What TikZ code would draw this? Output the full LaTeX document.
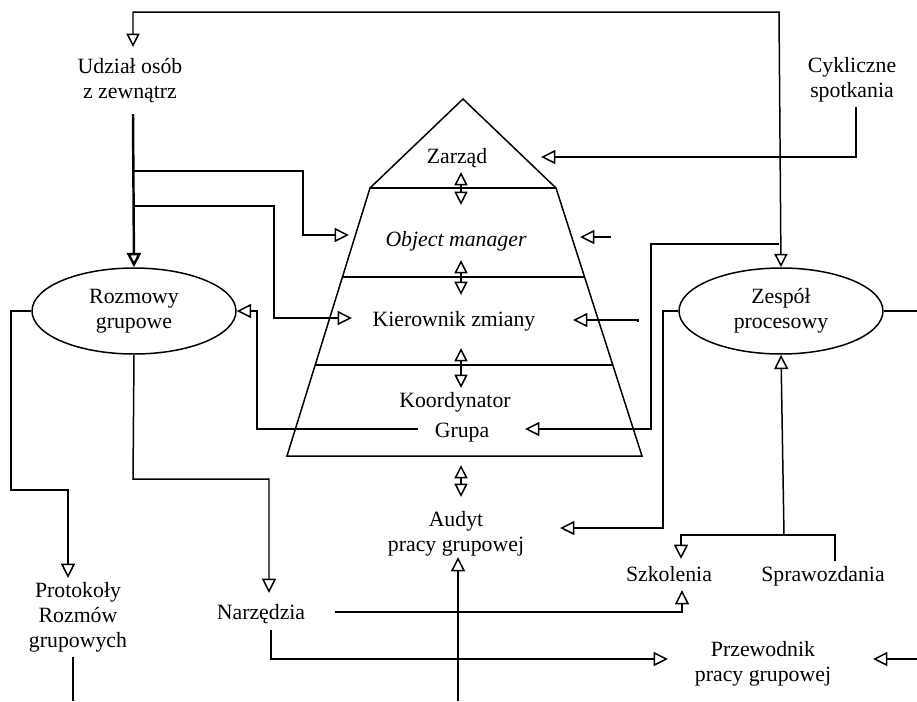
\documentclass[tikz,border=0pt]{standalone}
\usepackage{fontspec}
\setmainfont{Liberation Serif}
\usetikzlibrary{arrows.meta,shapes.geometric}
\begin{document}
\begin{tikzpicture}[x=0.02cm,y=-0.02cm,
  font=\fontsize{12.4pt}{14.2pt}\selectfont,
  line width=0.85pt,
  lbl/.style={inner sep=0pt, align=center, anchor=base},
  arr/.style={-{Triangle[open,length=8.2pt,width=8pt]}},
  darr/.style={{Triangle[open,length=7.6pt,width=7.4pt]}-{Triangle[open,length=7.6pt,width=7.4pt]}},
  ell/.style={draw, ellipse, minimum width=4.08cm, minimum height=1.72cm, inner sep=0pt, align=center},
  thickline/.style={line width=1.4pt}]
\useasboundingbox (0,0) rectangle (917,701);

% pyramid
\draw (463,99) -- (556,188) -- (642,456) -- (287,456) -- (370,188) -- cycle;
\draw (370,188) -- (556,188);
\draw (342.4,277) -- (584.6,277);
\draw (315.2,365) -- (612.8,365);

% texts (anchor base = baseline of the last line)
\node[lbl] (udz) at (130,98) {Udział osób\\z zewnątrz};
\node[lbl] (cyk) at (852,97) {Cykliczne\\spotkania};
\node[lbl] (zar) at (457,163) {Zarząd};
\node[lbl] (obj) at (456,246) {\itshape Object manager};
\node[lbl] (kie) at (454,326) {Kierownik zmiany};
\node[lbl] (koo) at (455,407) {Koordynator};
\node[lbl] (gru) at (462,437) {Grupa};
\node[lbl] (aud) at (456,551) {Audyt\\pracy grupowej};
\node[lbl] (szk) at (669,581) {Szkolenia};
\node[lbl] (spr) at (823,581) {Sprawozdania};
\node[lbl] (nar) at (261,619) {Narzędzia};
\node[lbl] (pro) at (78,647) {Protokoły\\Rozmów\\grupowych};
\node[lbl] (prz) at (763,681) {Przewodnik\\pracy grupowej};
\node[ell] (rozm) at (134,311) {Rozmowy\\grupowe};
\node[ell] (zesp) at (781,311) {Zespół\\procesowy};

% tip / end coordinates
\coordinate (tUdz) at (133,47);
\coordinate (tZar) at (541,157);
\coordinate (tObj) at (349,235);
\coordinate (tObjR) at (580,237);
\coordinate (tKie) at (352,318);
\coordinate (tKieR) at (573,320);
\coordinate (tGru) at (525,429);
\coordinate (tAud) at (560,528);
\coordinate (tAudB) at (458,557);
\coordinate (tSzkT) at (681,559);
\coordinate (tSzkB) at (682,590);
\coordinate (tPro) at (68,578);
\coordinate (tNar) at (269,593);
\coordinate (tPrz) at (668,659);
\coordinate (tPrzR) at (873,659);

% top loop: Udział <-> Zespół
\draw[darr] (tUdz) -- (133,12) -- (779,12) -- (zesp.north);
\draw[arr] (779,244) -- (651,244) -- (651,429) -- (tGru);

% Udział thick line to Rozmowy and branches
\draw[thickline,arr] (133,114) -- (rozm.north);
\draw[arr] (133,171) -- (303,171) -- (303,235) -- (tObj);
\draw[arr] (133,206) -- (274,206) -- (274,318) -- (tKie);

% Cykliczne spotkania -> Zarząd
\draw[arr] (856,107) -- (856,157) -- (tZar);

% short arrows from right
\draw[arr] (611,237) -- (tObjR);
\draw[arr] (638,322) -- (638,320) -- (tKieR);

% Zespół left -> Audyt, right out
\draw[arr] (zesp.west) -- (663,311) -- (663,528) -- (tAud);
\draw (zesp.east) -- (917,311);

% Szkolenia / Sprawozdania -> Zespół
\draw[arr] (835,561) -- (835,535) -- (681,535) -- (tSzkT);
\draw[arr] (784,535) -- (zesp.south);

% Narzędzia -> Szkolenia, Przewodnik
\draw[arr] (335,612) -- (682,612) -- (tSzkB);
\draw[arr] (271,630) -- (271,659) -- (tPrz);
\draw[arr] (917,659) -- (tPrzR);

% bottom vertical to Audyt
\draw[arr] (458,701) -- (tAudB);
\draw (73,657) -- (73,701);

% Rozmowy outputs
\draw[arr] (rozm.west) -- (11,311) -- (11,490) -- (68,490) -- (tPro);
\draw[arr] (rozm.south) -- (133,479) -- (269,479) -- (tNar);

% Grupa -> Rozmowy
\draw[arr] (418,429) -- (257,429) -- (257,311) -- (rozm.east);

% double arrows between levels
\draw[darr] (461,172) -- (461,205);
\draw[darr] (461,260) -- (461,295);
\draw[darr] (461,348) -- (461,388);
\draw[darr] (461,465) -- (461,497);
\end{tikzpicture}
\end{document}
